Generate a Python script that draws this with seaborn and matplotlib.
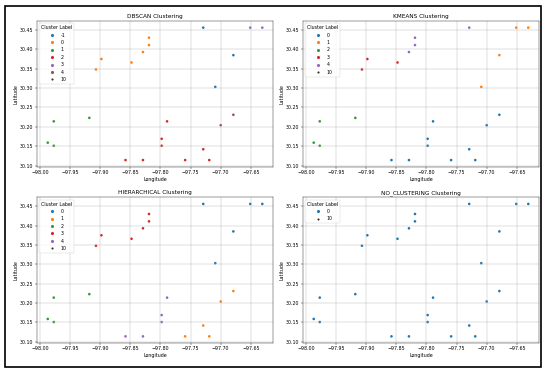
import numpy as np
import pandas as pd
import matplotlib
matplotlib.use("Agg")
import matplotlib.pyplot as plt
import seaborn as sns
from matplotlib.patches import Rectangle

longitude = [-97.729, -97.679, -97.709, -97.907, -97.898, -97.848, -97.829, -97.819,
             -97.819, -97.987, -97.977, -97.977, -97.918, -97.858, -97.829, -97.798,
             -97.798, -97.789, -97.759, -97.729, -97.719, -97.651, -97.631, -97.700,
             -97.679]
latitude = [30.456, 30.385, 30.303, 30.348, 30.375, 30.366, 30.393, 30.411,
            30.430, 30.159, 30.151, 30.214, 30.223, 30.114, 30.114, 30.169,
            30.151, 30.214, 30.114, 30.142, 30.114, 30.456, 30.456, 30.204,
            30.231]

dbscan_labels = [-1, -1, -1, 0, 0, 0, 0, 0, 0, 1, 1, 1, 1, 2, 2, 2, 2, 2, 2, 2, 2, 3, 3, 4, 4]
kmeans_labels = [4, 1, 1, 3, 3, 3, 4, 4, 4, 2, 2, 2, 2, 0, 0, 0, 0, 0, 0, 0, 0, 1, 1, 0, 0]
hier_labels = [0, 0, 0, 3, 3, 3, 3, 3, 3, 2, 2, 2, 2, 4, 4, 4, 4, 4, 1, 1, 1, 0, 0, 1, 1]
none_labels = [0] * 25

methods = ["DBSCAN", "KMEANS", "HIERARCHICAL", "NO_CLUSTERING"]
method_labels = [dbscan_labels, kmeans_labels, hier_labels, none_labels]
point_size = 10

DPI = 550 / 16
fig, axes = plt.subplots(2, 2, figsize=(16, 372 / DPI), dpi=DPI)
fig.subplots_adjust(left=0.0673, right=0.98, top=0.9435, bottom=0.078,
                    wspace=0.127, hspace=0.21)

for ax, name, labels in zip(axes.flat, methods, method_labels):
    df = pd.DataFrame({"Longitude": longitude, "Latitude": latitude,
                       "Cluster": labels, "sz": point_size})
    levels = sorted(set(labels))
    df["Cluster"] = df["Cluster"].astype(str)
    order = [str(v) for v in levels]
    sns.scatterplot(data=df, x="Longitude", y="Latitude", hue="Cluster",
                    hue_order=order, palette=sns.color_palette("tab10", len(order)),
                    size="sz", sizes=(30, 30), linewidth=0, ax=ax, legend="full")
    leg = ax.get_legend()
    handles = list(leg.legend_handles)
    texts = [t.get_text() for t in leg.get_texts()]
    keep = [(h, t) for h, t in zip(handles, texts) if t in order or t == str(point_size)]
    for h, t in keep:
        try:
            h.set_markeredgewidth(0)
            h.set_markersize(6.5 if t != str(point_size) else 4.5)
        except AttributeError:
            pass
    ax.legend([k[0] for k in keep], [k[1] for k in keep], title="Cluster Label",
              loc="upper left")
    ax.set_title(f"{name} Clustering")
    ax.set_xlabel("Longitude")
    ax.set_ylabel("Latitude")
    ax.grid(True)

fig.patches.append(Rectangle((5 / 550, 5 / 372), 536 / 550, 361 / 372,
                             transform=fig.transFigure, fill=False,
                             edgecolor="black", linewidth=3.5))

fig.savefig("out.png", dpi=DPI)
